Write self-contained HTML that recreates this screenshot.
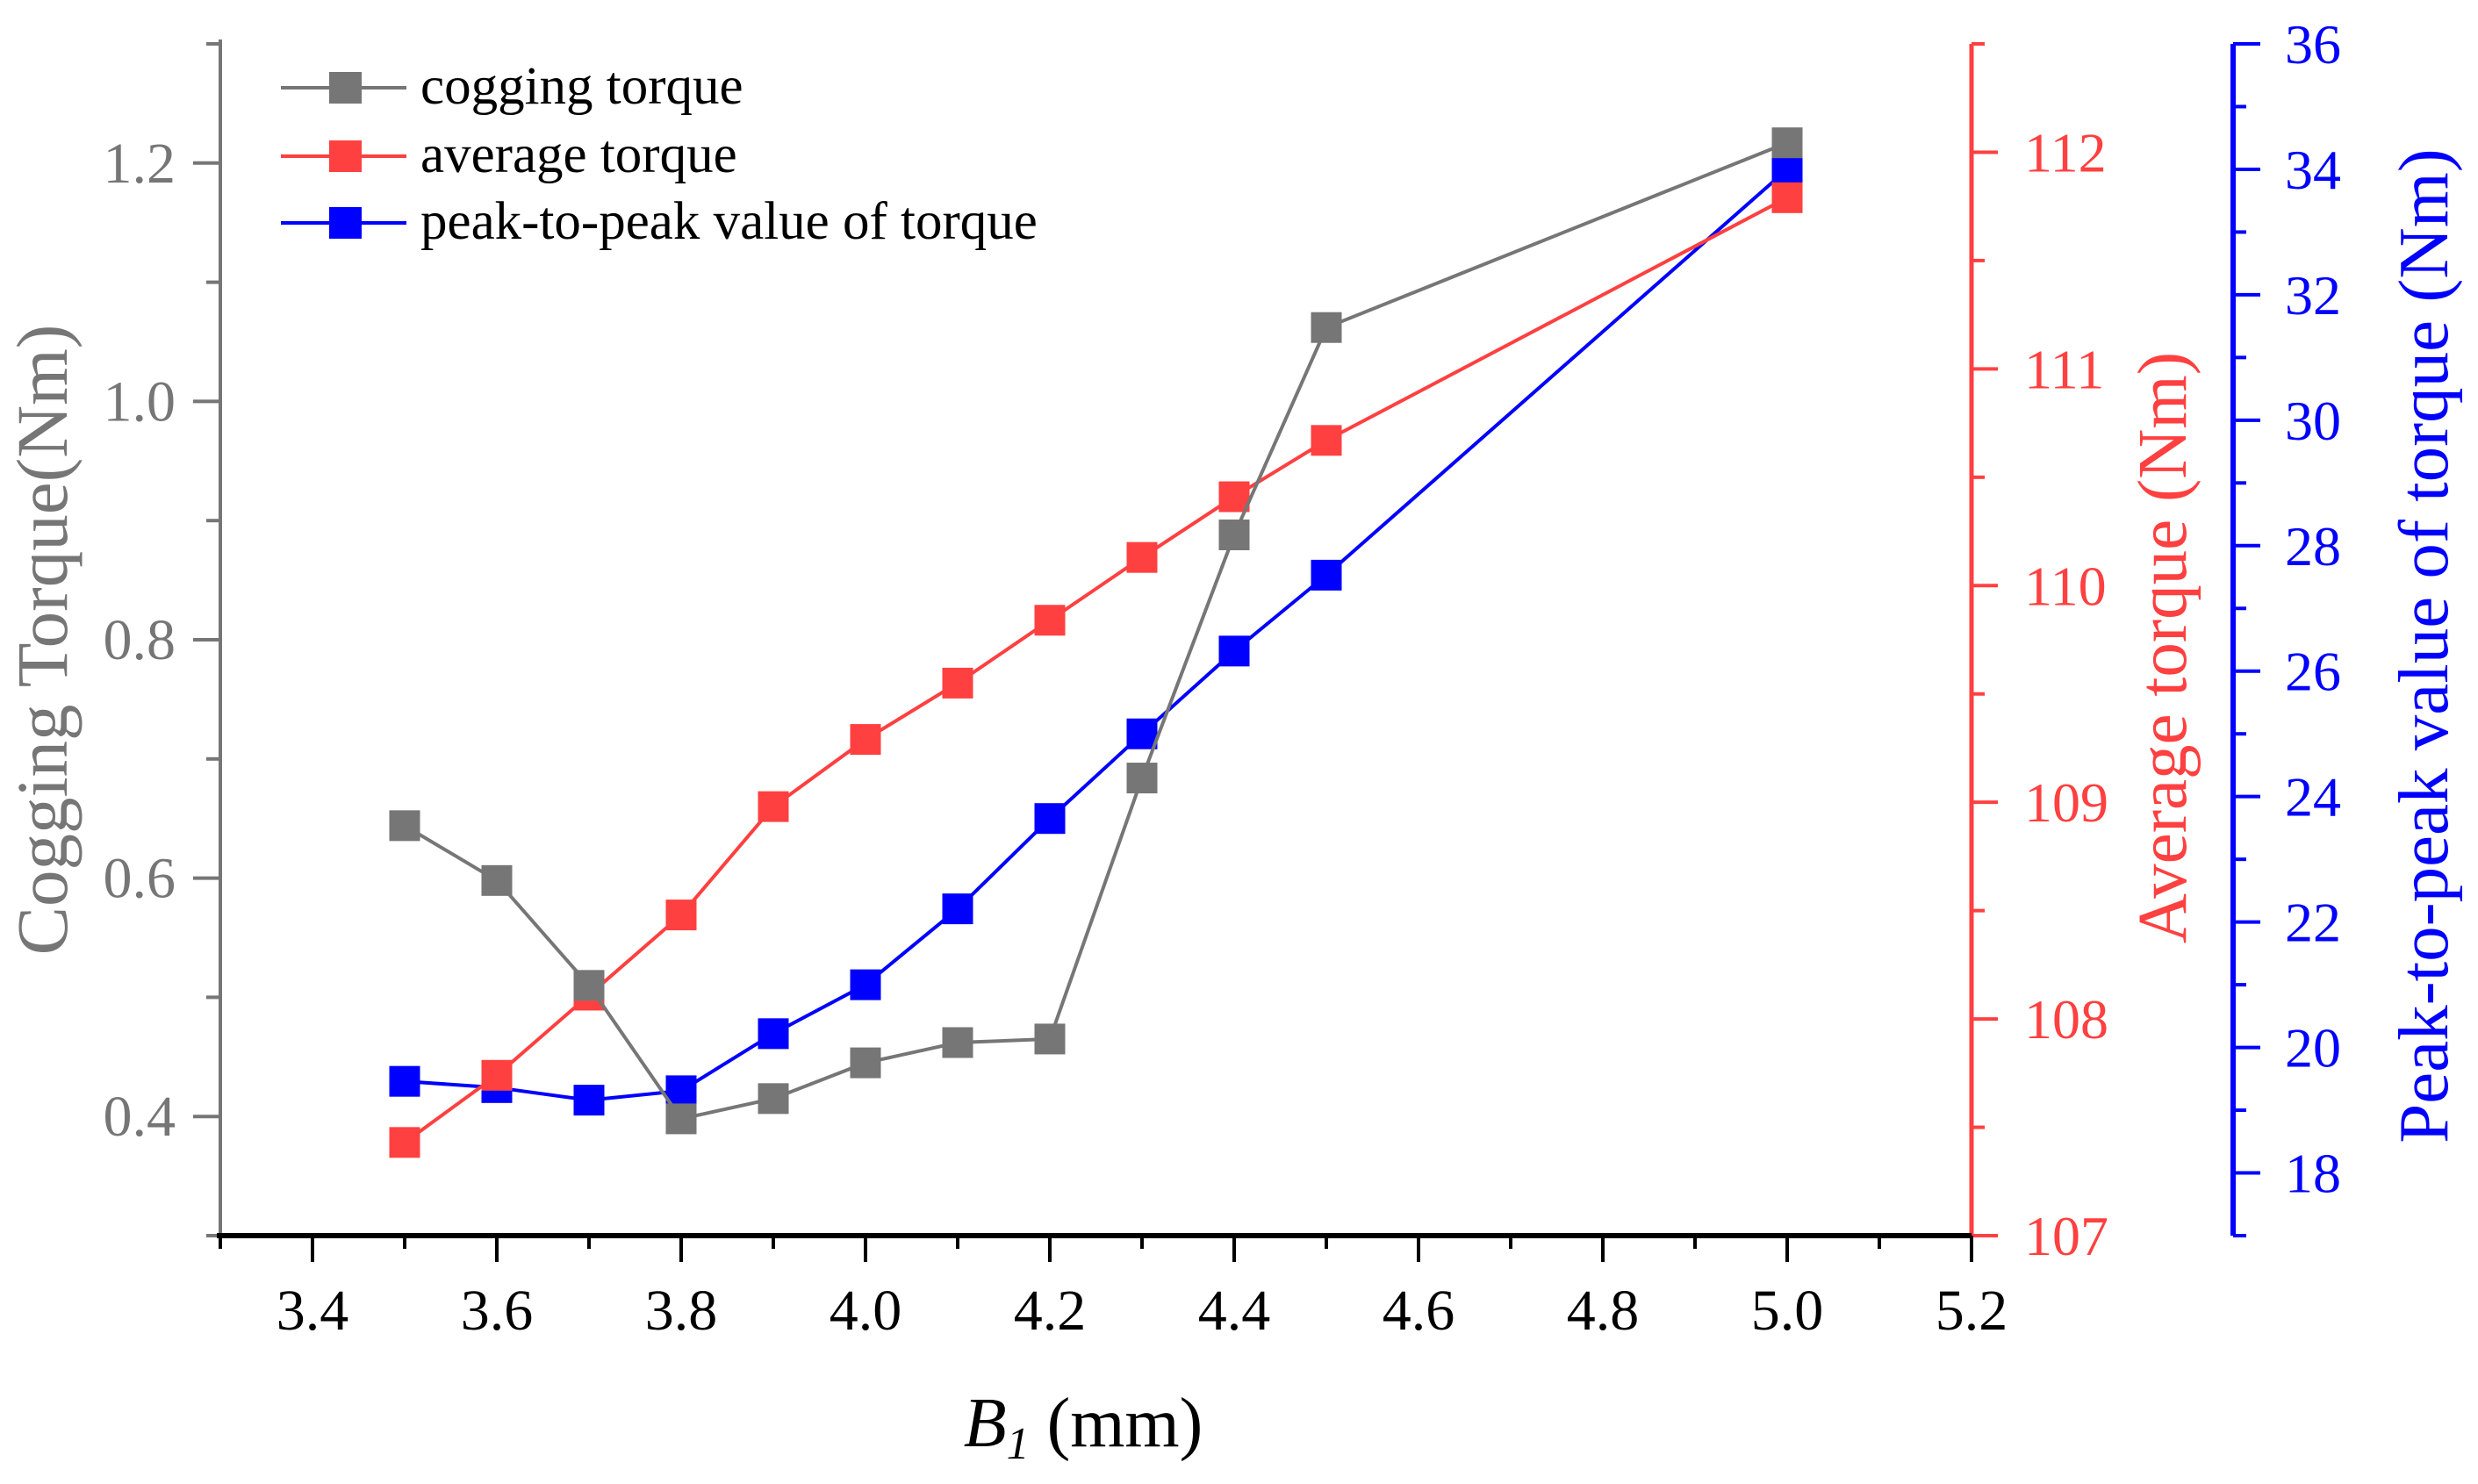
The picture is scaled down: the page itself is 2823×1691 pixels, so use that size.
<!DOCTYPE html>
<html><head><meta charset="utf-8"><style>
html,body{margin:0;padding:0;background:#fff;}
svg{display:block;font-family:"Liberation Serif","Times New Roman",serif;}
</style></head><body>
<svg id="chart" width="2823" height="1691" viewBox="0 0 2823 1691" xmlns="http://www.w3.org/2000/svg"></svg>
<script>
const xValues = [3.5, 3.6, 3.7, 3.8, 3.9, 4.0, 4.1, 4.2, 4.3, 4.4, 4.5, 5.0];
const coggingValues = [0.644, 0.598, 0.51, 0.398, 0.415, 0.445, 0.462, 0.465, 0.684, 0.888, 1.062, 1.217];
const averageValues = [107.43, 107.74, 108.11, 108.48, 108.98, 109.29, 109.55, 109.84, 110.13, 110.41, 110.67, 111.79];
const peakValues = [19.46, 19.36, 19.16, 19.31, 20.22, 21.0, 22.21, 23.65, 25.0, 26.32, 27.53, 34.0];
const xTicks = ["3.4","3.6","3.8","4.0","4.2","4.4","4.6","4.8","5.0","5.2"];
const leftTicks = ["0.4","0.6","0.8","1.0","1.2"];
const redTicks = ["107","108","109","110","111","112"];
const blueTicks = ["18","20","22","24","26","28","30","32","34","36"];

const NS="http://www.w3.org/2000/svg";
const svg=document.getElementById('chart');
const L=251, R=2246, B=1408, T=50, BX=2544;
const X=v=>L+(v-3.3)/(5.2-3.3)*(R-L);
const YG=v=>B-(v-0.3)/(1.3-0.3)*(B-T);
const YR=v=>B-(v-107)/(112.5-107)*(B-T);
const YB=v=>B-(v-17)/(36-17)*(B-T);
const GRAY="#767676", RED="#ff4040", BLUE="#0000ff";
function mk(tag,attrs,parent){const e=document.createElementNS(NS,tag);for(const k in attrs)e.setAttribute(k,attrs[k]);(parent||svg).appendChild(e);return e;}
function line(x1,y1,x2,y2,c,w,p){return mk('line',{x1,y1,x2,y2,stroke:c,'stroke-width':w},p);}
function text(x,y,s,size,fill,anchor,p){const t=mk('text',{x,y,'font-size':size,fill,'text-anchor':anchor||'middle'},p);t.textContent=s;return t;}

// left axis
const gL=mk('g',{});


line(L,T-5,L,B,GRAY,4,gL);
for(let v=0.3;v<=1.3001;v+=0.1){const y=YG(v);const major=Math.round(v*10)%2===0;line(L-(major?31:16),y,L,y,GRAY,4,gL);}
leftTicks.forEach(s=>{const t=text(200,YG(+s)+22,s,66,GRAY,'end',gL);});
const lt=text(0,0,"Cogging Torque(Nm)",83,GRAY,'middle',gL);
lt.setAttribute('transform','translate(76,729) rotate(-90)');



// red axis
const gR=mk('g',{});


line(R,T,R,B,RED,5,gR);
for(let i=0;i<=11;i++){const v=107+i*0.5;const y=YR(v);line(R,y,R+(i%2===0?30:15),y,RED,4,gR);}
redTicks.forEach(s=>{const t=text(2306,YR(+s)+22,s,64,RED,'start',gR);});
const rt=text(0,0,"Average torque (Nm)",79,RED,'middle',gR);
rt.setAttribute('transform','translate(2490,738) rotate(-90)');



// blue axis
const gB=mk('g',{});


line(BX,T,BX,B,BLUE,6,gB);
for(let v=17;v<=36;v++){const y=YB(v);line(BX,y,BX+(v%2===0?31:15),y,BLUE,4,gB);}
blueTicks.forEach(s=>{const t=text(2667,YB(+s)+22,s,64,BLUE,'end',gB);});
const bt=text(0,0,"Peak-to-peak value of torque (Nm)",81,BLUE,'middle',gB);
bt.setAttribute('transform','translate(2788,736) rotate(-90)');



// x axis
const gX=mk('g',{});


line(L-4,B,R,B,"#000",6,gX);
for(let i=0;i<=19;i++){const v=3.3+i*0.1;const x=X(v);const major=i%2===1;line(x,B,x,B+(major?30:15),"#000",4,gX);}
xTicks.forEach(s=>{const t=text(X(+s),1515,s,66,"#000",'middle',gX);});
const xt=mk('text',{x:1234,y:1648,'font-size':80,fill:'#000','text-anchor':'middle'},gX);
xt.innerHTML='<tspan font-style="italic">B</tspan><tspan font-style="italic" font-size="52" dy="14">1</tspan><tspan dy="-14"> (mm)</tspan>';



// series
function series(vals,Y,c,name){
  const g=mk('g',{});
  
  
  const pts=xValues.map((x,i)=>X(x)+','+Y(vals[i])).join(' ');
  const pl=mk('polyline',{points:pts,fill:'none',stroke:c,'stroke-width':4},g);
  
  
  xValues.forEach((x,i)=>{const r=mk('rect',{x:X(x)-17.5,y:Y(vals[i])-17.5,width:35,height:35,fill:c},g);
    
    });
}
series(peakValues,YB,BLUE,'peak-to-peak');
series(averageValues,YR,RED,'average-torque');
series(coggingValues,YG,GRAY,'cogging-torque');

// legend
const gLg=mk('g',{});


[["cogging torque",GRAY,100],["average torque",RED,178],["peak-to-peak value of torque",BLUE,254]].forEach(([s,c,y])=>{
  const e=mk('g',{},gLg);
  
  
  line(320,y,463,y,c,4,e);
  mk('rect',{x:375,y:y-18,width:37,height:36,fill:c},e);
  text(479,y+18,s,61,'#000','start',e);
});
</script>
</body></html>
